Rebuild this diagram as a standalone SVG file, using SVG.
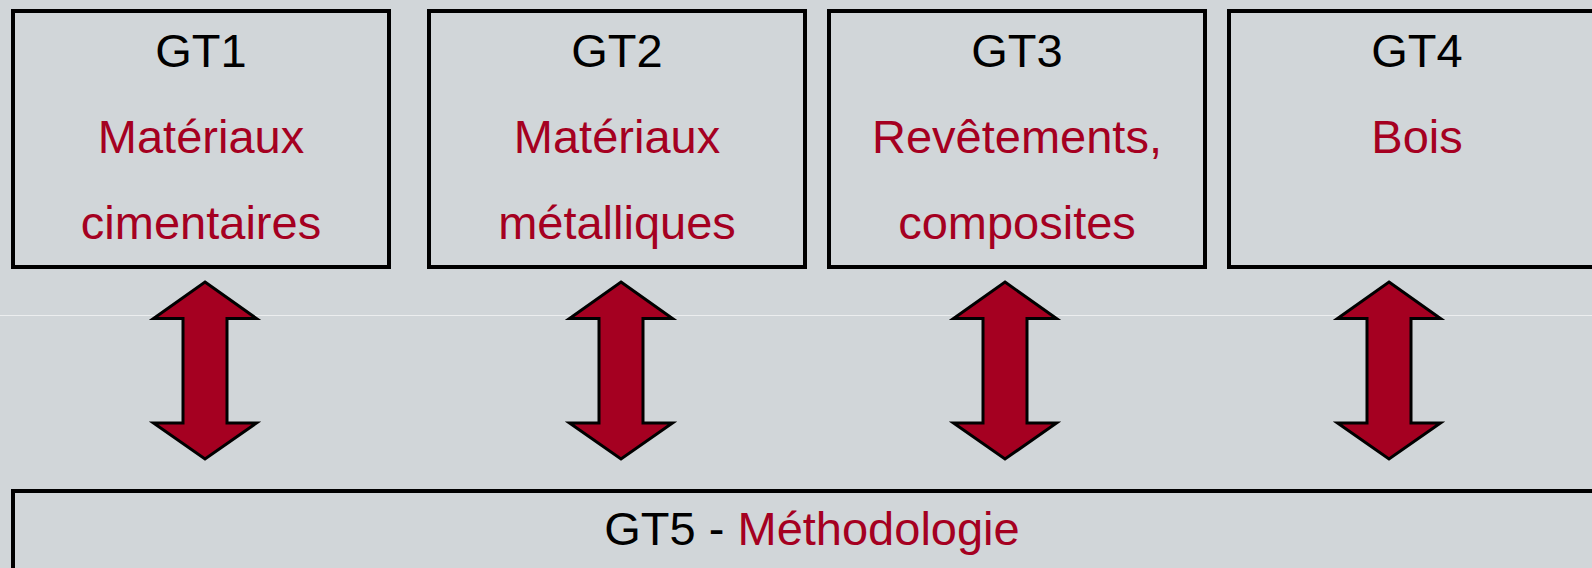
<svg xmlns="http://www.w3.org/2000/svg" width="1592" height="568" viewBox="0 0 1592 568">
<defs>
<style>
.box{fill:none;stroke:#000;stroke-width:4}
.t{font-family:"Liberation Sans",Arial,sans-serif;font-size:47px;text-anchor:middle}
.k{fill:#000}
.r{fill:#a50021}
.arr{fill:#a50021;stroke:#000;stroke-width:3;stroke-linejoin:miter;stroke-miterlimit:10}
</style>
<path id="dbl" d="M0,-177 L51.5,-140.5 L22,-140.5 L22,-36 L51.5,-36 L0,0 L-51.5,-36 L-22,-36 L-22,-140.5 L-51.5,-140.5 Z"/>
</defs>
<rect width="1592" height="568" fill="#d1d6d9"/>
<line x1="0" y1="315.5" x2="1592" y2="315.5" stroke="#eceeef" stroke-width="1"/>
<g id="gt1">
<rect class="box" x="13" y="11" width="376" height="256"/>
<text class="t k" x="201" y="67">GT1</text>
<text class="t r" x="201" y="153">Matériaux</text>
<text class="t r" x="201" y="239">cimentaires</text>
</g>
<g id="gt2">
<rect class="box" x="429" y="11" width="376" height="256"/>
<text class="t k" x="617" y="67">GT2</text>
<text class="t r" x="617" y="153">Matériaux</text>
<text class="t r" x="617" y="239">métalliques</text>
</g>
<g id="gt3">
<rect class="box" x="829" y="11" width="376" height="256"/>
<text class="t k" x="1017" y="67">GT3</text>
<text class="t r" x="1017" y="153">Revêtements,</text>
<text class="t r" x="1017" y="239">composites</text>
</g>
<g id="gt4">
<rect class="box" x="1229" y="11" width="376" height="256"/>
<text class="t k" x="1417" y="67">GT4</text>
<text class="t r" x="1417" y="153">Bois</text>
</g>
<g id="gt5">
<rect class="box" x="13" y="491" width="1600" height="120"/>
<text class="t" x="812" y="545"><tspan class="k">GT5 - </tspan><tspan class="r">Méthodologie</tspan></text>
</g>
<g id="connectors">
<use href="#dbl" class="arr" transform="translate(205,459)"/>
<use href="#dbl" class="arr" transform="translate(621,459)"/>
<use href="#dbl" class="arr" transform="translate(1005,459)"/>
<use href="#dbl" class="arr" transform="translate(1389,459)"/>
</g>
</svg>
